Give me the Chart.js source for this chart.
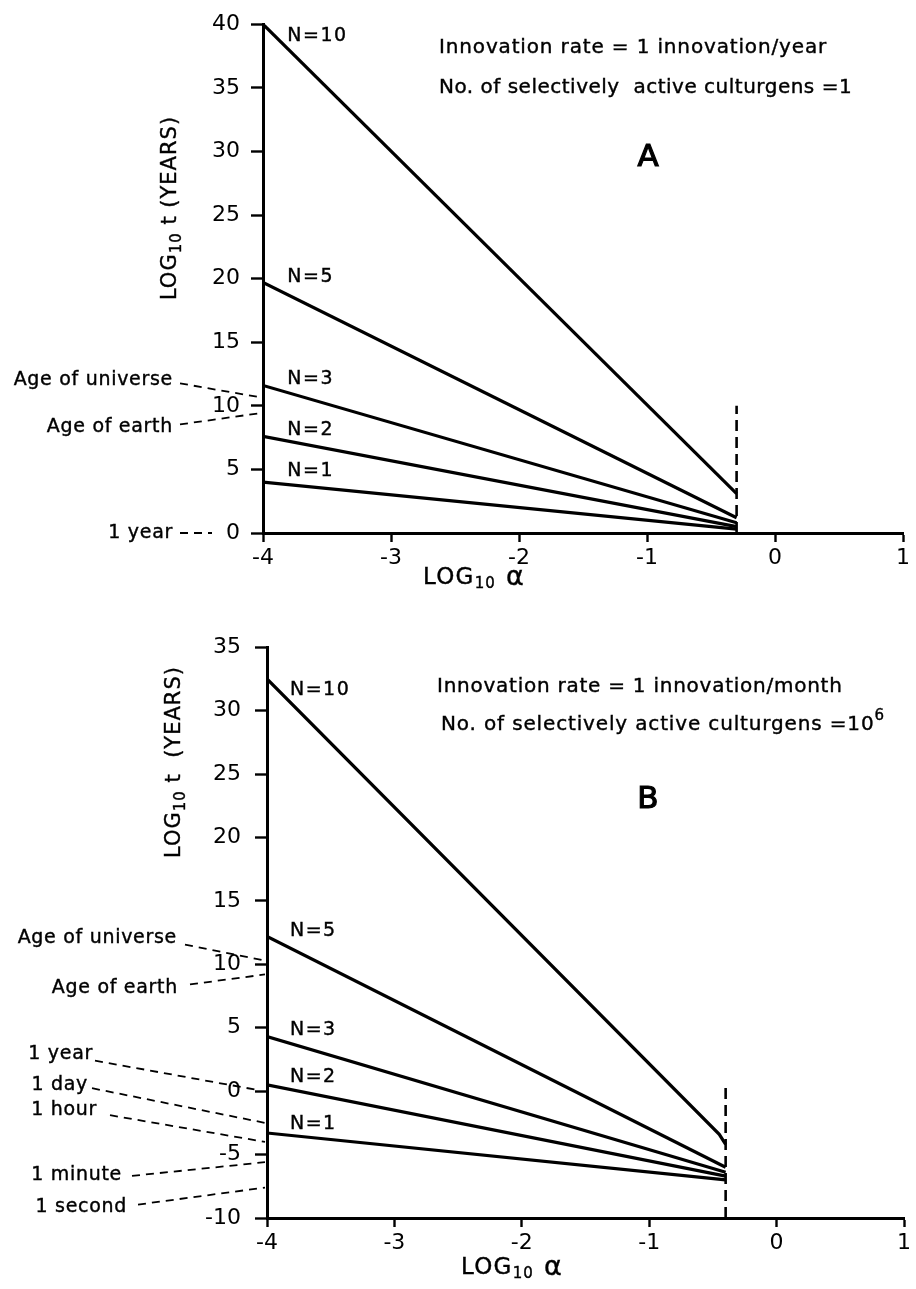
<!DOCTYPE html>
<html><head><meta charset="utf-8">
<script src="https://cdn.jsdelivr.net/npm/chart.js@4.4.0/dist/chart.umd.min.js"></script>
<style>
html,body{margin:0;padding:0;background:#fff;width:916px;height:1289px;overflow:hidden}
#ca{position:absolute;left:0;top:0}
#cb{position:absolute;left:0;top:620px}
</style></head><body>
<canvas id="ca" width="916" height="620"></canvas>
<canvas id="cb" width="916" height="669"></canvas>
<script>
// ---------- data ----------
const X_TICKS = [-4, -3, -2, -1, 0, 1];
const A_Y_TICKS = [0, 5, 10, 15, 20, 25, 30, 35, 40];
const B_Y_TICKS = [-10, -5, 0, 5, 10, 15, 20, 25, 30, 35];

// Panel A: log10 t (years) vs log10 alpha
const A_ALPHA = [-4, -0.3];
const A_N10 = [40, 3.1];
const A_N5 = [19.7, 1.2];
const A_N3 = [11.6, 0.8];
const A_N2 = [7.6, 0.5];
const A_N1 = [4.0, 0.3];
const A_LIMIT_ALPHA = [-0.3, -0.3];
const A_LIMIT_T = [0, 10];
const A_N_LABELS = ['N=10', 'N=5', 'N=3', 'N=2', 'N=1'];
const A_N_LABEL_T = [39.1, 20.1, 12.1, 8.1, 4.9];
const A_REF_TEXT = ['Age of universe', 'Age of earth', '1 year'];
const A_REF_TEXT_T = [12.0, 8.3, 0];
const A_REF_TARGET_T = [10.7, 9.4, 0];

// Panel B
const B_ALPHA = [-4, -0.4];
const B_N10_ALPHA = [-4, -0.45, -0.4];
const B_N10 = [32.5, -3.4, -4.2];
const B_N5 = [12.2, -6.0];
const B_N3 = [4.3, -6.4];
const B_N2 = [0.5, -6.7];
const B_N1 = [-3.3, -7.0];
const B_LIMIT_ALPHA = [-0.4, -0.4];
const B_LIMIT_T = [-10, 0.35];
const B_N_LABELS = ['N=10', 'N=5', 'N=3', 'N=2', 'N=1'];
const B_N_LABEL_T = [31.6, 12.6, 4.8, 1.15, -2.6];
const B_REF_TEXT = ['Age of universe', 'Age of earth', '1 year', '1 day', '1 hour', '1 minute', '1 second'];
const B_REF_TEXT_T = [12.1, 8.1, 2.96, 0.47, -1.5, -6.6, -9.1];
const B_REF_TARGET_T = [10.3, 9.2, 0.1, -2.5, -4.0, -5.6, -7.6];

// ---------- helpers ----------
const FONT = '"DejaVu Sans", sans-serif';
const pts = (xs, ys) => xs.map((x, i) => ({x, y: ys[i]}));
function lineDs(xs, ys, dash) {
  return {data: pts(xs, ys), showLine: true, borderColor: '#000', borderWidth: dash ? 2.6 : 3.2,
    borderDash: dash ? [11, 6] : [], pointRadius: 0, tension: 0, fill: false};
}
function txt(ctx, t, x, y, sw) {
  ctx.fillText(t, x, y);
  if (sw) { ctx.lineWidth = sw; ctx.setLineDash([]); ctx.strokeText(t, x, y); }
}
function drawParts(ctx, parts, x, y, align, sw) {
  let total = 0;
  parts.forEach(p => { ctx.font = p.size + 'px ' + FONT; p.w = ctx.measureText(p.t).width; total += p.w; });
  let cx = align === 'center' ? x - total / 2 : x;
  ctx.textAlign = 'left';
  parts.forEach(p => { ctx.font = p.size + 'px ' + FONT; txt(ctx, p.t, cx, y + (p.dy || 0), sw); cx += p.w; });
}

const annotPlugin = {
  id: 'annot',
  afterDraw(chart, args, o) {
    const ctx = chart.ctx, xs = chart.scales.x, ys = chart.scales.y, ca = chart.chartArea;
    ctx.save();
    ctx.fillStyle = '#000'; ctx.strokeStyle = '#000';
    ctx.textBaseline = 'middle';
    // reference leader labels
    o.refs.forEach(r => {
      const ty = ys.getPixelForValue(r.at);
      ctx.letterSpacing = '0.7px';
      ctx.font = '19px ' + FONT; ctx.textAlign = 'right';
      txt(ctx, r.text, r.right, ty, 0.4);
      ctx.setLineDash([8, 6]); ctx.lineWidth = 1.8;
      ctx.beginPath();
      ctx.moveTo(r.from, ty + r.dy);
      ctx.lineTo(ca.left - r.endGap, ys.getPixelForValue(r.target));
      ctx.stroke();
      ctx.setLineDash([]);
    });
    // N labels
    ctx.letterSpacing = '1.5px';
    ctx.font = '19px ' + FONT; ctx.textAlign = 'left';
    o.nLabels.forEach(l => txt(ctx, l.text, xs.getPixelForValue(l.x), ys.getPixelForValue(l.y), 0.4));
    // info text
    o.info.forEach(t => { ctx.letterSpacing = t.ls + 'px'; drawParts(ctx, t.parts, t.x, t.y, 'left', 0.4); });
    // panel letter
    ctx.letterSpacing = '0px';
    ctx.font = '31px ' + FONT; ctx.textAlign = 'center';
    txt(ctx, o.letter.t, o.letter.x, o.letter.y, 1.2);
    // x title
    ctx.letterSpacing = '1.2px';
    drawParts(ctx, [{t: 'LOG', size: 23}, {t: '10', size: 15, dy: 6}, {t: ' α', size: 27}], o.xTitle.x, o.xTitle.y, 'center', 0.4);
    // y title (rotated)
    ctx.letterSpacing = '1px';
    ctx.translate(o.yTitle.x, o.yTitle.y);
    ctx.rotate(-Math.PI / 2);
    drawParts(ctx, [{t: 'LOG', size: 21}, {t: '10', size: 15, dy: 6}, {t: o.yTitle.rest, size: 21}], 0, 0, 'center', 0.4);
    ctx.restore();
  }
};

function makeChart(id, cfg) {
  const tickFont = {family: FONT, size: 22};
  return new Chart(document.getElementById(id), {
    type: 'scatter',
    data: {datasets: cfg.datasets},
    options: {
      responsive: false, animation: false, devicePixelRatio: 1,
      layout: {padding: cfg.padding},
      plugins: {legend: {display: false}, tooltip: {enabled: false}, annot: cfg.annot},
      scales: {
        x: {
          type: 'linear', min: X_TICKS[0], max: X_TICKS[X_TICKS.length - 1],
          afterBuildTicks: s => { s.ticks = X_TICKS.map(v => ({value: v})); },
          afterFit: s => { s.height = cfg.xHeight; },
          grid: {display: true, drawOnChartArea: false, drawTicks: true, tickLength: 9, tickColor: '#000', tickWidth: 2.4},
          border: {display: true, color: '#000', width: 3},
          ticks: {color: '#000', font: tickFont, padding: 3, maxRotation: 0}
        },
        y: {
          type: 'linear', min: cfg.yTicks[0], max: cfg.yTicks[cfg.yTicks.length - 1],
          afterBuildTicks: s => { s.ticks = cfg.yTicks.map(v => ({value: v})); },
          afterFit: s => { s.width = cfg.yWidth; },
          grid: {display: true, drawOnChartArea: false, drawTicks: true, tickLength: 12, tickColor: '#000', tickWidth: 2.4},
          border: {display: true, color: '#000', width: 3},
          ticks: {color: '#000', font: tickFont, padding: cfg.yPad}
        }
      }
    },
    plugins: [annotPlugin]
  });
}

// ---------- Panel A ----------
makeChart('ca', {
  padding: {left: 0, top: 15, right: 13, bottom: 0},
  xHeight: 620 - 533, yWidth: 263, yPad: 11, yTicks: A_Y_TICKS,
  datasets: [
    lineDs(A_ALPHA, A_N10), lineDs(A_ALPHA, A_N5), lineDs(A_ALPHA, A_N3),
    lineDs(A_ALPHA, A_N2), lineDs(A_ALPHA, A_N1),
    lineDs(A_LIMIT_ALPHA, A_LIMIT_T, true)
  ],
  annot: {
    refs: [
      {text: A_REF_TEXT[0], at: A_REF_TEXT_T[0], target: A_REF_TARGET_T[0], right: 173, from: 180, dy: 3, endGap: 5},
      {text: A_REF_TEXT[1], at: A_REF_TEXT_T[1], target: A_REF_TARGET_T[1], right: 173, from: 180, dy: -3, endGap: 5},
      {text: A_REF_TEXT[2], at: A_REF_TEXT_T[2], target: A_REF_TARGET_T[2], right: 173, from: 180, dy: 0, endGap: 51}
    ],
    nLabels: A_N_LABELS.map((t, i) => ({text: t, x: -3.81, y: A_N_LABEL_T[i]})),
    info: [
      {x: 439, y: 48, ls: 0.85, parts: [{t: 'Innovation rate = 1 innovation/year', size: 20}]},
      {x: 439, y: 88, ls: 0.5, parts: [{t: 'No. of selectively  active culturgens =1', size: 20}]}
    ],
    letter: {t: 'A', x: 648, y: 158},
    xTitle: {x: 474, y: 578},
    yTitle: {x: 171, y: 208, rest: ' t (YEARS)'}
  }
});

// ---------- Panel B ----------
makeChart('cb', {
  padding: {left: 0, top: 21, right: 12, bottom: 0},
  xHeight: 669 - 598, yWidth: 267, yPad: 14, yTicks: B_Y_TICKS,
  datasets: [
    lineDs(B_N10_ALPHA, B_N10), lineDs(B_ALPHA, B_N5), lineDs(B_ALPHA, B_N3),
    lineDs(B_ALPHA, B_N2), lineDs(B_ALPHA, B_N1),
    lineDs(B_LIMIT_ALPHA, B_LIMIT_T, true)
  ],
  annot: {
    refs: [
      {text: B_REF_TEXT[0], at: B_REF_TEXT_T[0], target: B_REF_TARGET_T[0], right: 177, from: 185, dy: 7, endGap: 2},
      {text: B_REF_TEXT[1], at: B_REF_TEXT_T[1], target: B_REF_TARGET_T[1], right: 178, from: 190, dy: -4, endGap: 2},
      {text: B_REF_TEXT[2], at: B_REF_TEXT_T[2], target: B_REF_TARGET_T[2], right: 93, from: 95, dy: 7, endGap: 10},
      {text: B_REF_TEXT[3], at: B_REF_TEXT_T[3], target: B_REF_TARGET_T[3], right: 88, from: 92, dy: 3, endGap: 2},
      {text: B_REF_TEXT[4], at: B_REF_TEXT_T[4], target: B_REF_TARGET_T[4], right: 97, from: 110, dy: 5, endGap: 2},
      {text: B_REF_TEXT[5], at: B_REF_TEXT_T[5], target: B_REF_TARGET_T[5], right: 122, from: 132, dy: 1, endGap: 2},
      {text: B_REF_TEXT[6], at: B_REF_TEXT_T[6], target: B_REF_TARGET_T[6], right: 127, from: 138, dy: -2, endGap: 2}
    ],
    nLabels: B_N_LABELS.map((t, i) => ({text: t, x: -3.82, y: B_N_LABEL_T[i]})),
    info: [
      {x: 437, y: 67, ls: 0.75, parts: [{t: 'Innovation rate = 1 innovation/month', size: 20}]},
      {x: 441, y: 105, ls: 0.85, parts: [{t: 'No. of selectively active culturgens =10', size: 20}, {t: '6', size: 15, dy: -9}]}
    ],
    letter: {t: 'B', x: 648, y: 180},
    xTitle: {x: 512, y: 648},
    yTitle: {x: 175, y: 142, rest: ' t  (YEARS)'}
  }
});
</script>
</body></html>
